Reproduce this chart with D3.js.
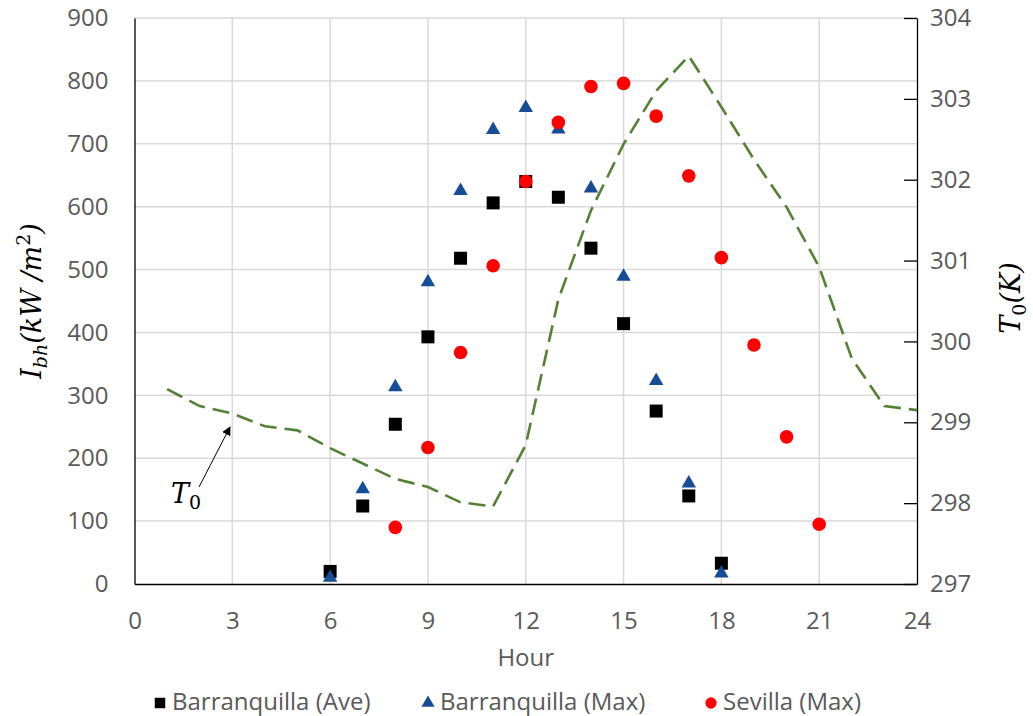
<!DOCTYPE html>
<html>
<head>
<meta charset="utf-8">
<script src="https://cdn.jsdelivr.net/npm/d3@7"></script>
<style>
    body { margin: 0; background: #fff; }
    .tick text { font-family: "Open Sans", sans-serif; fill: #595959; }
</style>
</head>
<body>
<div id="chart"></div>
<script>
// hours for the irradiance series
var hoursBq = [6, 7, 8, 9, 10, 11, 12, 13, 14, 15, 16, 17, 18];
var hoursSev = [8, 9, 10, 11, 12, 13, 14, 15, 16, 17, 18, 19, 20, 21];
var hoursT0 = [1, 2, 3, 4, 5, 6, 7, 8, 9, 10, 11, 12, 13, 14, 15, 16, 17, 18, 19, 20, 21, 22, 23, 24];

var barranquillaAve = [20, 124, 254, 393, 518, 606, 640, 615, 534, 414, 275, 140, 33];
var barranquillaMax = [10, 151, 313, 480, 625, 722, 757, 723, 629, 489, 323, 160, 17];
var sevillaMax = [90, 217, 368, 506, 640, 734, 791, 796, 744, 649, 519, 380, 234, 95];
var t0 = [299.41, 299.20, 299.11, 298.95, 298.90, 298.68, 298.49, 298.30, 298.20, 298.01, 297.96, 298.72,
    300.52, 301.62, 302.44, 303.10, 303.53, 302.90, 302.25, 301.66, 300.92, 299.79, 299.20, 299.15];

var xTicks = [0, 3, 6, 9, 12, 15, 18, 21, 24];
var yLeftTicks = [0, 100, 200, 300, 400, 500, 600, 700, 800, 900];
var yRightTicks = [297, 298, 299, 300, 301, 302, 303, 304];

var legendNames = ["Barranquilla (Ave)", "Barranquilla (Max)", "Sevilla (Max)"];

var width = 1033, height = 716;
var plotLeft = 134.5, plotRight = 917, plotTop = 18, plotBottom = 584;

var x = d3.scaleLinear().domain([0, 24]).range([plotLeft, plotRight]);
var yL = d3.scaleLinear().domain([0, 900]).range([plotBottom, plotTop]);
var yR = d3.scaleLinear().domain([297, 304]).range([plotBottom, plotTop]);

var svg = d3.select("#chart").append("svg")
    .attr("width", width)
    .attr("height", height);

// gridlines
svg.append("g").selectAll("line")
    .data(yLeftTicks.slice(1))
    .enter().append("line")
    .attr("x1", plotLeft).attr("x2", plotRight)
    .attr("y1", d => yL(d)).attr("y2", d => yL(d))
    .attr("stroke", "#d9d9d9").attr("stroke-width", 1.5);

svg.append("g").selectAll("line")
    .data(xTicks.slice(1, -1))
    .enter().append("line")
    .attr("x1", d => x(d)).attr("x2", d => x(d))
    .attr("y1", plotTop).attr("y2", plotBottom)
    .attr("stroke", "#d9d9d9").attr("stroke-width", 1.5);

// axes
var axL = svg.append("g")
    .attr("transform", "translate(" + plotLeft + ",0)")
    .call(d3.axisLeft(yL).tickValues(yLeftTicks).tickSize(0).tickPadding(26));
axL.select(".domain").attr("stroke", "#000").attr("stroke-width", 1.3);
axL.selectAll("text").style("font-size", "24px");

var axR = svg.append("g")
    .attr("transform", "translate(" + plotRight + ",0)")
    .call(d3.axisRight(yR).tickValues(yRightTicks).tickFormat(d3.format("d"))
        .tickSizeInner(-13).tickSizeOuter(0).tickPadding(13));
axR.select(".domain").attr("stroke", "#000").attr("stroke-width", 1.3);
axR.selectAll("line").attr("stroke", "#000").attr("stroke-width", 1.3);
axR.selectAll("text").style("font-size", "24px");

var axB = svg.append("g")
    .attr("transform", "translate(0," + plotBottom + ")")
    .call(d3.axisBottom(x).tickValues(xTicks).tickSize(0).tickPadding(28));
axB.select(".domain").attr("stroke", "#000").attr("stroke-width", 1.3);
axB.selectAll("text").style("font-size", "24px");

// T0 dashed line
var line = d3.line()
    .x((d, i) => x(hoursT0[i]))
    .y(d => yR(d));

svg.append("path")
    .datum(t0)
    .attr("d", line)
    .attr("fill", "none")
    .attr("stroke", "#538135")
    .attr("stroke-width", 2.6)
    .attr("stroke-dasharray", "17,8");

// markers
var sq = d3.symbol().type(d3.symbolSquare).size(169);
var tri = d3.symbol().type(d3.symbolTriangle).size(90);
var circ = d3.symbol().type(d3.symbolCircle).size(145);

svg.append("g").selectAll("path")
    .data(barranquillaAve)
    .enter().append("path")
    .attr("d", sq)
    .attr("transform", (d, i) => "translate(" + x(hoursBq[i]) + "," + yL(d) + ")")
    .attr("fill", "#000");

svg.append("g").selectAll("path")
    .data(barranquillaMax)
    .enter().append("path")
    .attr("d", tri)
    .attr("transform", (d, i) => "translate(" + x(hoursBq[i]) + "," + yL(d) + ")")
    .attr("fill", "#174d96");

svg.append("g").selectAll("path")
    .data(sevillaMax)
    .enter().append("path")
    .attr("d", circ)
    .attr("transform", (d, i) => "translate(" + x(hoursSev[i]) + "," + yL(d) + ")")
    .attr("fill", "#ff0000");

// axis titles
var serif = '"DejaVu Serif", "Liberation Serif", serif';

var lt = svg.append("text")
    .attr("transform", "translate(41,301) rotate(-90)")
    .attr("text-anchor", "middle")
    .style("font-family", serif)
    .style("font-style", "italic")
    .style("font-size", "27px")
    .attr("fill", "#000");
lt.append("tspan").text("I");
lt.append("tspan").attr("dy", 6).style("font-size", "19px").text("bh");
lt.append("tspan").attr("dy", -6).text("(kW /m");
lt.append("tspan").attr("dy", -11).style("font-size", "19px").style("font-style", "normal").text("2");
lt.append("tspan").attr("dy", 11).text(")");

var rt = svg.append("text")
    .attr("transform", "translate(1020,298) rotate(-90)")
    .attr("text-anchor", "middle")
    .style("font-family", serif)
    .style("font-style", "italic")
    .style("font-size", "27px")
    .attr("fill", "#000");
rt.append("tspan").text("T");
rt.append("tspan").attr("dy", 6).style("font-size", "19px").style("font-style", "normal").text("0");
rt.append("tspan").attr("dy", -6).text("(K)");

svg.append("text")
    .attr("x", x(12)).attr("y", 666)
    .attr("text-anchor", "middle")
    .style("font-family", '"Open Sans", sans-serif')
    .style("font-size", "24px")
    .attr("fill", "#595959")
    .text("Hour");

// T0 annotation with arrow
svg.append("defs").append("marker")
    .attr("id", "head")
    .attr("viewBox", "0 0 10 10")
    .attr("refX", 9).attr("refY", 5)
    .attr("markerWidth", 9).attr("markerHeight", 9)
    .attr("markerUnits", "userSpaceOnUse")
    .attr("orient", "auto")
    .append("path")
    .attr("d", "M0,0L10,5L0,10z")
    .attr("fill", "#000");

svg.append("line")
    .attr("x1", 199).attr("y1", 487)
    .attr("x2", 230).attr("y2", 427)
    .attr("stroke", "#000").attr("stroke-width", 1)
    .attr("marker-end", "url(#head)");

var ann = svg.append("text")
    .attr("x", 171).attr("y", 503)
    .style("font-family", serif)
    .style("font-size", "27px")
    .attr("fill", "#000");
ann.append("tspan").style("font-style", "italic").text("T");
ann.append("tspan").attr("dy", 6).style("font-size", "19px").text("0");

// legend
var legendX = [160, 428, 711];
var legendCol = ["#000", "#174d96", "#ff0000"];
var legendSym = [
    d3.symbol().type(d3.symbolSquare).size(110),
    d3.symbol().type(d3.symbolTriangle).size(75),
    d3.symbol().type(d3.symbolCircle).size(100)
];

var lg = svg.append("g").selectAll("g")
    .data(legendNames)
    .enter().append("g")
    .attr("transform", (d, i) => "translate(" + legendX[i] + ",703)");

lg.append("path")
    .attr("d", (d, i) => legendSym[i]())
    .attr("fill", (d, i) => legendCol[i]);

lg.append("text")
    .attr("x", 12).attr("y", 7)
    .style("font-family", '"Open Sans", sans-serif')
    .style("font-size", "24px")
    .attr("fill", "#595959")
    .text(d => d);
</script>
</body>
</html>
